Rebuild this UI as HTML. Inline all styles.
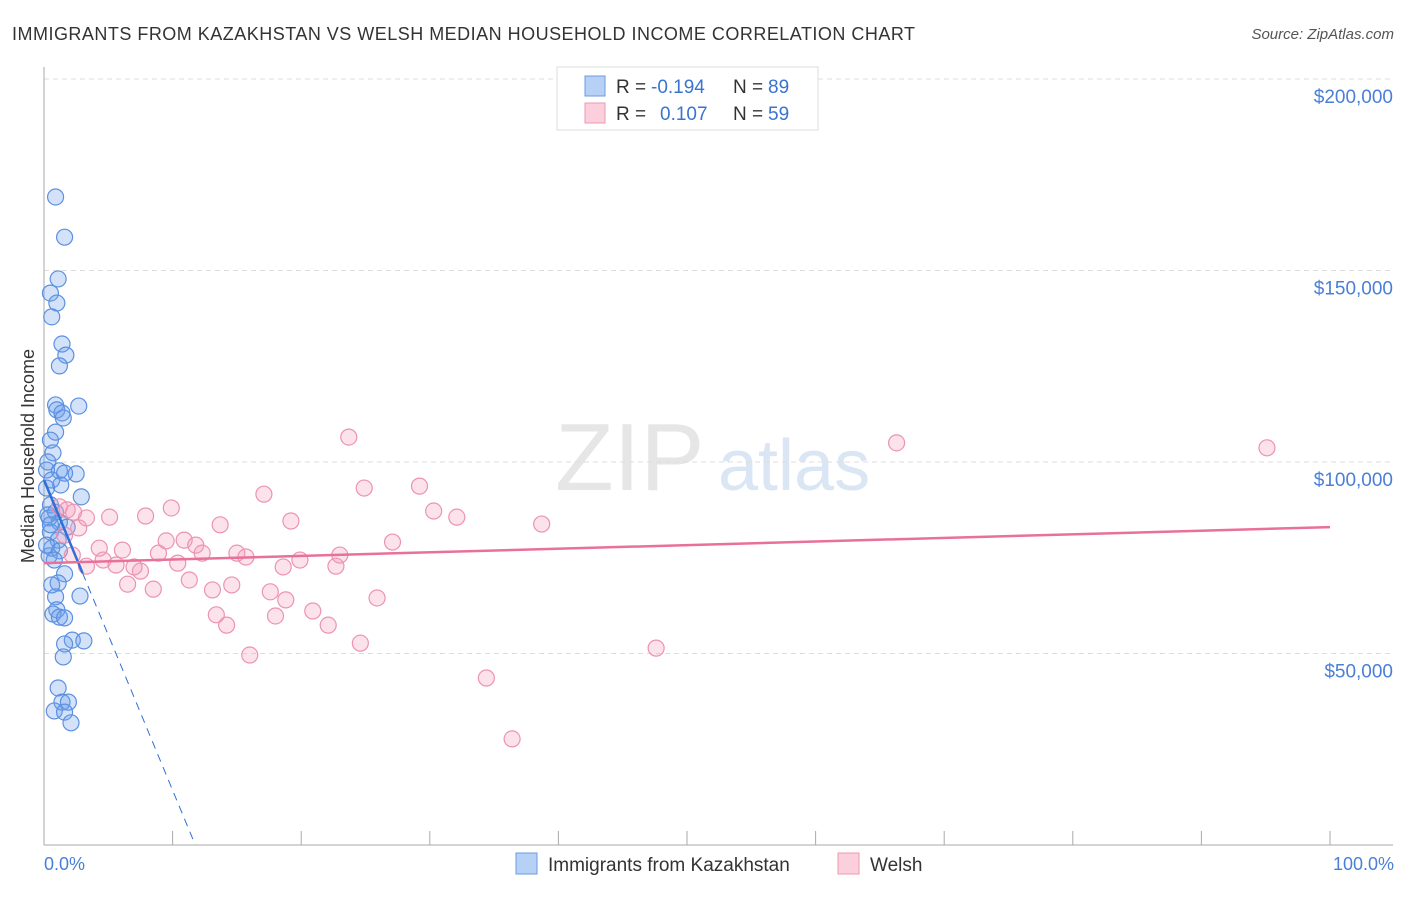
<!DOCTYPE html>
<html><head><meta charset="utf-8"><style>
body{margin:0;background:#fff;font-family:"Liberation Sans",sans-serif;}
svg text{font-family:"Liberation Sans",sans-serif;}
</style></head><body>
<svg id="chart" width="1406" height="892">
<text x="12" y="40" font-size="18" fill="#333" textLength="903" lengthAdjust="spacing">IMMIGRANTS FROM KAZAKHSTAN VS WELSH MEDIAN HOUSEHOLD INCOME CORRELATION CHART</text>
<text x="1394" y="39" font-size="15" fill="#555" font-style="italic" text-anchor="end">Source: ZipAtlas.com</text>
<text x="555" y="490" font-size="96" fill="#e6e6e6" font-family="Liberation Serif">ZIP</text>
<text x="718" y="490" font-size="72" fill="#dbe6f5">atlas</text>
<g id="grid"></g>
<g id="axes"></g>
<g id="marks"></g>
<text x="34" y="456" font-size="18" fill="#333" text-anchor="middle" transform="rotate(-90 34 456)">Median Household Income</text>
<text x="44" y="870" font-size="18" fill="#4a7fd6">0.0%</text>
<text x="1394" y="870" font-size="18" fill="#4a7fd6" text-anchor="end">100.0%</text>
<g>
<rect x="557" y="67" width="261" height="63" fill="#fff" stroke="#ddd"/>
<rect x="585" y="76" width="20" height="20" fill="#b7d0f5" stroke="#6a9be0"/>
<rect x="585" y="103" width="20" height="20" fill="#fbcfdc" stroke="#ee9ab4"/>
<text x="616" y="93" font-size="19" fill="#333">R =</text>
<text x="651" y="93" font-size="19" fill="#3a73d0">-0.194</text>
<text x="733" y="93" font-size="19" fill="#333">N =</text>
<text x="768" y="93" font-size="19" fill="#3a73d0">89</text>
<text x="616" y="120" font-size="19" fill="#333">R =</text>
<text x="660" y="120" font-size="19" fill="#3a73d0">0.107</text>
<text x="733" y="120" font-size="19" fill="#333">N =</text>
<text x="768" y="120" font-size="19" fill="#3a73d0">59</text>
</g>
<g>
<rect x="516" y="853" width="21" height="21" fill="#b7d0f5" stroke="#6a9be0"/>
<text x="548" y="871" font-size="19" fill="#333">Immigrants from Kazakhstan</text>
<rect x="838" y="853" width="21" height="21" fill="#fbcfdc" stroke="#ee9ab4"/>
<text x="870" y="871" font-size="19" fill="#333">Welsh</text>
</g>
</svg>
<script>
const yTicks=[50000,100000,150000,200000];
const yTickLabels=["$50,000","$100,000","$150,000","$200,000"];
const xTicks=[0,10,20,30,40,50,60,70,80,90,100];
const blueX=[0.9,1.6,1.1,0.5,1.0,0.6,1.4,1.7,1.2,2.7,0.9,1.0,1.4,1.5,0.9,0.5,0.7,0.3,0.2,1.2,1.6,2.5,0.6,1.3,0.2,2.9,0.5,0.9,0.4,1.2,1.8,0.5,1.1,0.6,1.2,0.4,0.8,1.6,1.1,2.8,0.9,1.0,0.7,1.2,1.6,2.2,3.1,1.6,1.5,1.1,1.4,1.9,0.8,1.6,2.1,0.3,0.5,0.2,0.6];
const blueY=[169.2,158.7,147.8,144.1,141.5,137.9,130.8,127.9,125.1,114.6,114.9,113.6,112.8,111.5,107.8,105.7,102.4,100,97.9,97.7,97.1,96.9,95.3,94,93.2,90.9,88.8,86.9,85.4,84.3,83,81.7,79.6,77.5,76.8,75.5,74.4,70.8,68.4,65,64.8,61.4,60.3,59.5,59.3,53.5,53.3,52.5,49.1,41,37.3,37.3,35,34.7,31.9,86.2,83.6,78.3,67.9];
const pinkX=[1.2,1.8,2.3,2.7,5.1,7.9,9.9,13.7,17.1,19.2,23.7,24.9,29.2,30.3,32.1,38.7,66.3,95.1,4.3,6.1,3.3,4.6,5.6,6.5,7.5,8.5,8.9,9.5,10.4,10.9,11.3,11.8,12.3,13.1,13.4,14.2,14.6,15.0,15.7,16.0,17.6,18.0,18.6,18.8,19.9,20.9,22.1,22.7,23.0,24.6,25.9,27.1,34.4,36.4,47.6,3.3,1.6,2.2,7.0];
const pinkY=[88.3,87.5,86.9,82.8,85.6,85.9,88,83.6,91.6,84.6,106.5,93.2,93.7,87.2,85.6,83.8,105,103.7,77.5,77,72.8,74.4,73.1,68.1,71.5,66.8,76.2,79.4,73.6,79.6,69.2,78.3,76.2,66.6,60.1,57.4,67.9,76.2,75.2,49.6,66.1,59.8,72.6,64,74.4,61.1,57.4,72.8,75.7,52.7,64.5,79.1,43.6,27.7,51.4,85.4,80.9,75.7,72.6];
const blueTrend=[95.3,-8.1];
const pinkTrend=[73.6,0.094];
const NS="http://www.w3.org/2000/svg";
const xs=v=>44+v*12.86;
const ys=v=>845-v*0.00383;
function mk(tag,attrs,parent){const e=document.createElementNS(NS,tag);for(const k in attrs)e.setAttribute(k,attrs[k]);parent.appendChild(e);return e;}
const grid=document.getElementById('grid'),axes=document.getElementById('axes'),marks=document.getElementById('marks');
yTicks.forEach((t,i)=>{
 const l=mk('line',{x1:44,x2:1393,y1:ys(t),y2:ys(t),stroke:'#ddd','stroke-dasharray':'5,4'},grid);
 
 
 const tx=mk('text',{x:1393,y:ys(t)+24,'font-size':19,fill:'#4a7fd6','text-anchor':'end'},axes);
 tx.textContent=yTickLabels[i];
 
 
});
const yAx=mk('line',{x1:44,x2:44,y1:67,y2:845,stroke:'#aaa'},axes);


const xAx=mk('line',{x1:44,x2:1393,y1:845,y2:845,stroke:'#aaa'},axes);


xTicks.forEach(t=>{
 const l=mk('line',{x1:xs(t),x2:xs(t),y1:831,y2:845,stroke:'#aaa'},axes);
 
 
});
blueX.forEach((x,i)=>{
 const c=mk('circle',{cx:xs(x),cy:ys(blueY[i]*1000),r:8,fill:'rgba(110,160,235,0.3)',stroke:'#5b90e0','stroke-width':1.2},marks);
 
 
});
pinkX.forEach((x,i)=>{
 const c=mk('circle',{cx:xs(x),cy:ys(pinkY[i]*1000),r:8,fill:'rgba(245,160,190,0.3)',stroke:'#ec93b0','stroke-width':1.2},marks);
 
 
});
const bf=x=>(blueTrend[0]+blueTrend[1]*x)*1000;
const bEnd=-blueTrend[0]/blueTrend[1];
const bs=mk('line',{x1:xs(0),y1:ys(bf(0)),x2:xs(3),y2:ys(bf(3)),stroke:'#2f6fd8','stroke-width':2.5},marks);


const bd=mk('line',{x1:xs(3),y1:ys(bf(3)),x2:xs(bEnd),y2:ys(0),stroke:'#2f6fd8','stroke-width':1,'stroke-dasharray':'8,6'},marks);


const pf=x=>(pinkTrend[0]+pinkTrend[1]*x)*1000;
const pl=mk('line',{x1:xs(0),y1:ys(pf(0)),x2:xs(100),y2:ys(pf(100)),stroke:'#e8709a','stroke-width':2.5},marks);


</script>
</body></html>
